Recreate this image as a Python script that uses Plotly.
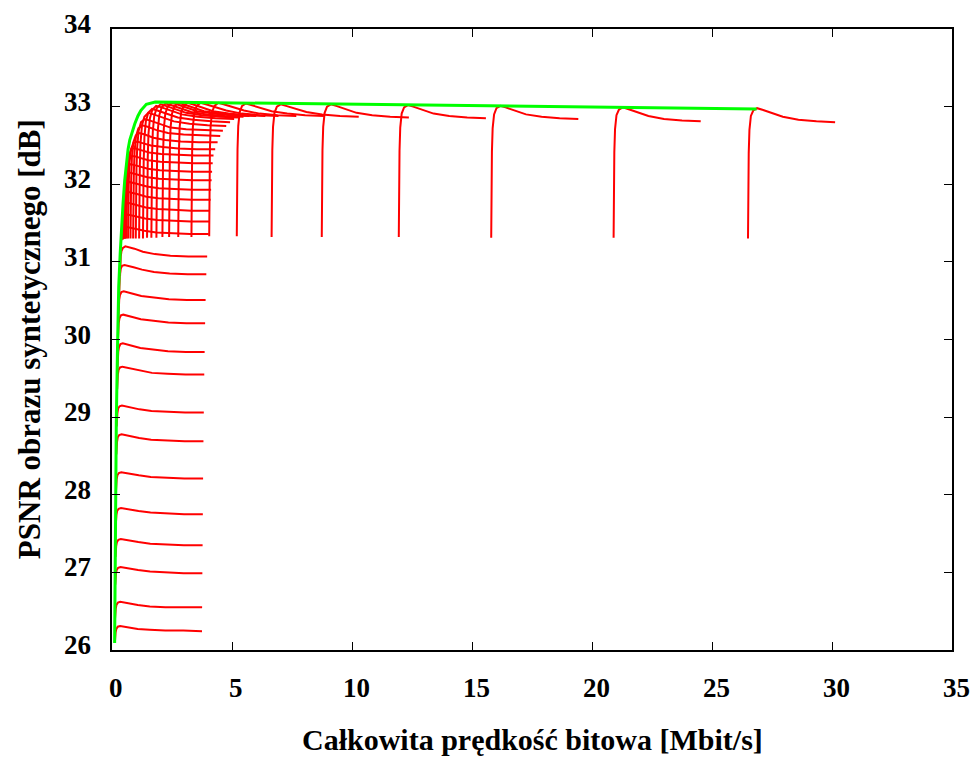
import plotly.graph_objects as go

# Depth-map bitrate added on top of the texture bitrate, one entry per depth quality step [Mbit/s]
depth_rate = [0.00, 0.01, 0.03, 0.06, 0.12, 0.22, 0.38, 0.60, 0.95, 1.45, 2.10, 2.85, 3.63]

# Texture bitrate of every operating curve [Mbit/s]
tex_rate = [
    0.12, 0.125, 0.135, 0.145, 0.155, 0.165, 0.18, 0.195, 0.215, 0.23, 0.25, 0.27, 0.30, 0.335,
    0.40, 0.43, 0.455, 0.48, 0.50, 0.52, 0.54, 0.565, 0.60,
    0.67, 0.77, 0.88, 0.99, 1.13, 1.29, 1.46, 1.64, 1.85, 2.10, 2.38, 2.76, 3.31, 4.05,
    5.20, 6.65, 8.74, 11.95, 15.80, 20.90, 26.50,
]

# PSNR of the synthesized view for each texture curve, along depth_rate [dB]
psnr = [
    [26.10, 26.17, 26.23, 26.27, 26.30, 26.31, 26.30, 26.29, 26.27, 26.26, 26.25, 26.25, 26.24],
    [26.40, 26.47, 26.53, 26.58, 26.61, 26.62, 26.61, 26.60, 26.58, 26.56, 26.55, 26.55, 26.55],
    [26.84, 26.91, 26.98, 27.03, 27.06, 27.07, 27.06, 27.05, 27.03, 27.01, 27.00, 26.99, 26.99],
    [27.20, 27.27, 27.34, 27.39, 27.42, 27.43, 27.42, 27.41, 27.39, 27.37, 27.36, 27.35, 27.35],
    [27.60, 27.67, 27.74, 27.79, 27.82, 27.83, 27.82, 27.81, 27.79, 27.77, 27.76, 27.75, 27.75],
    [28.05, 28.13, 28.20, 28.25, 28.28, 28.29, 28.28, 28.27, 28.25, 28.23, 28.22, 28.21, 28.21],
    [28.52, 28.60, 28.68, 28.74, 28.77, 28.78, 28.77, 28.75, 28.73, 28.71, 28.70, 28.69, 28.69],
    [28.88, 28.97, 29.05, 29.11, 29.14, 29.15, 29.14, 29.12, 29.10, 29.08, 29.07, 29.06, 29.06],
    [29.36, 29.46, 29.55, 29.61, 29.64, 29.65, 29.64, 29.62, 29.60, 29.57, 29.56, 29.55, 29.55],
    [29.64, 29.75, 29.84, 29.90, 29.94, 29.95, 29.94, 29.92, 29.89, 29.87, 29.85, 29.84, 29.84],
    [30.00, 30.11, 30.21, 30.27, 30.31, 30.32, 30.31, 30.29, 30.26, 30.24, 30.22, 30.21, 30.21],
    [30.29, 30.41, 30.51, 30.57, 30.61, 30.62, 30.61, 30.59, 30.56, 30.54, 30.52, 30.51, 30.51],
    [30.60, 30.73, 30.84, 30.91, 30.95, 30.96, 30.95, 30.93, 30.90, 30.87, 30.85, 30.84, 30.84],
    [30.82, 30.96, 31.07, 31.14, 31.18, 31.20, 31.19, 31.17, 31.13, 31.10, 31.08, 31.07, 31.07],
    [31.28, 31.33, 31.38, 31.42, 31.44, 31.45, 31.44, 31.42, 31.40, 31.38, 31.37, 31.36, 31.36],
    [31.29, 31.40, 31.50, 31.57, 31.60, 31.61, 31.60, 31.58, 31.56, 31.54, 31.53, 31.52, 31.52],
    [31.29, 31.45, 31.60, 31.70, 31.74, 31.76, 31.75, 31.73, 31.70, 31.68, 31.67, 31.66, 31.66],
    [31.30, 31.50, 31.68, 31.81, 31.88, 31.90, 31.89, 31.87, 31.84, 31.82, 31.81, 31.80, 31.80],
    [31.30, 31.55, 31.76, 31.91, 32.00, 32.03, 32.02, 32.00, 31.97, 31.95, 31.94, 31.93, 31.93],
    [31.30, 31.58, 31.82, 32.00, 32.11, 32.15, 32.14, 32.12, 32.09, 32.07, 32.06, 32.05, 32.05],
    [31.30, 31.61, 31.88, 32.08, 32.21, 32.26, 32.25, 32.23, 32.20, 32.18, 32.17, 32.16, 32.16],
    [31.30, 31.64, 31.93, 32.15, 32.30, 32.36, 32.36, 32.34, 32.31, 32.29, 32.28, 32.27, 32.27],
    [31.30, 31.67, 31.98, 32.22, 32.39, 32.46, 32.46, 32.44, 32.41, 32.39, 32.38, 32.37, 32.37],
    [31.30, 31.70, 32.03, 32.28, 32.45, 32.53, 32.55, 32.53, 32.50, 32.48, 32.46, 32.45, 32.45],
    [31.30, 31.74, 32.09, 32.35, 32.54, 32.63, 32.66, 32.64, 32.60, 32.57, 32.55, 32.54, 32.54],
    [31.30, 31.78, 32.15, 32.42, 32.62, 32.72, 32.76, 32.74, 32.70, 32.66, 32.64, 32.63, 32.62],
    [31.30, 31.81, 32.20, 32.48, 32.69, 32.80, 32.84, 32.82, 32.78, 32.73, 32.71, 32.70, 32.69],
    [31.30, 31.84, 32.25, 32.54, 32.76, 32.87, 32.92, 32.90, 32.86, 32.81, 32.78, 32.76, 32.75],
    [31.30, 31.87, 32.30, 32.60, 32.81, 32.92, 32.97, 32.95, 32.91, 32.86, 32.83, 32.81, 32.80],
    [31.31, 31.90, 32.35, 32.65, 32.85, 32.96, 33.01, 32.99, 32.95, 32.90, 32.87, 32.85, 32.84],
    [31.31, 31.92, 32.38, 32.68, 32.88, 32.98, 33.03, 33.01, 32.97, 32.92, 32.89, 32.87, 32.86],
    [31.31, 31.94, 32.40, 32.70, 32.89, 32.99, 33.04, 33.02, 32.98, 32.93, 32.90, 32.88, 32.87],
    [31.32, 31.95, 32.42, 32.72, 32.91, 33.00, 33.05, 33.03, 32.99, 32.94, 32.91, 32.89, 32.88],
    [31.32, 31.96, 32.43, 32.73, 32.91, 33.00, 33.05, 33.03, 32.99, 32.94, 32.91, 32.89, 32.88],
    [31.32, 31.97, 32.44, 32.74, 32.92, 33.01, 33.05, 33.03, 32.99, 32.94, 32.91, 32.89, 32.88],
    [31.32, 31.98, 32.44, 32.74, 32.92, 33.01, 33.05, 33.03, 33.00, 32.95, 32.91, 32.89, 32.88],
    [31.33, 31.98, 32.45, 32.75, 32.93, 33.01, 33.05, 33.03, 33.00, 32.95, 32.91, 32.89, 32.88],
    [31.33, 31.99, 32.45, 32.75, 32.93, 33.01, 33.04, 33.02, 32.99, 32.94, 32.91, 32.89, 32.88],
    [31.32, 31.99, 32.44, 32.74, 32.92, 33.00, 33.03, 33.01, 32.98, 32.93, 32.90, 32.88, 32.87],
    [31.32, 31.98, 32.44, 32.74, 32.92, 33.00, 33.03, 33.01, 32.97, 32.92, 32.89, 32.87, 32.86],
    [31.32, 31.98, 32.43, 32.73, 32.91, 32.99, 33.02, 33.00, 32.96, 32.91, 32.88, 32.86, 32.85],
    [31.31, 31.97, 32.42, 32.72, 32.90, 32.98, 33.01, 32.99, 32.95, 32.90, 32.87, 32.85, 32.84],
    [31.31, 31.96, 32.41, 32.71, 32.89, 32.96, 32.99, 32.97, 32.93, 32.88, 32.84, 32.82, 32.81],
    [31.30, 31.95, 32.40, 32.70, 32.88, 32.95, 32.98, 32.96, 32.92, 32.87, 32.83, 32.81, 32.80],
]

# Upper envelope of the best operating points
env_rate = [0.11, 0.14, 0.18, 0.23, 0.28, 0.34, 0.39, 0.46, 0.53, 0.60, 0.67, 0.74,
            0.84, 0.95, 1.08, 1.20, 1.43, 1.80, 26.86]
env_psnr = [26.09, 27.60, 28.96, 29.90, 30.68, 31.10, 31.41, 31.75, 32.05, 32.30, 32.45, 32.57,
            32.68, 32.78, 32.88, 32.95, 33.03, 33.06, 32.97]

x_ticks = [0, 5, 10, 15, 20, 25, 30, 35]
y_ticks = [26, 27, 28, 29, 30, 31, 32, 33, 34]

FONT = "Liberation Serif, Times New Roman, serif"
TICK_FONT = dict(family=FONT, size=27, color="black", weight="bold")
XTITLE_FONT = dict(family=FONT, size=30, color="black", weight="bold")
YTITLE_FONT = dict(family=FONT, size=31, color="black", weight="bold")

# Every texture curve joined into one polyline, separated by gaps
curve_x, curve_y = [], []
for r_tex, row in zip(tex_rate, psnr):
    curve_x += [r_tex + d for d in depth_rate] + [None]
    curve_y += list(row) + [None]

fig = go.Figure()
fig.add_trace(go.Scatter(
    x=curve_x, y=curve_y, mode="lines",
    line=dict(color="#ff0000", width=2),
    connectgaps=False, hoverinfo="skip",
))
fig.add_trace(go.Scatter(
    x=env_rate, y=env_psnr, mode="lines",
    line=dict(color="#00ff00", width=3),
    hoverinfo="skip",
))

axis_common = dict(
    showgrid=False, zeroline=False, automargin=False,
    showline=True, linecolor="black", linewidth=1.5, mirror="ticks",
    ticks="inside", ticklen=8, tickwidth=1.2, tickcolor="black",
    showticklabels=False,
)

fig.update_xaxes(range=[0, 35], tickvals=x_ticks, **axis_common)
fig.update_yaxes(range=[26, 34], tickvals=y_ticks, **axis_common)

# Tick labels placed as text so their offset from the ticks can be set exactly
annotations = []
for v in x_ticks:
    annotations.append(dict(
        text=str(v), x=v, xref="x", y=0, yref="paper",
        xanchor="center", yanchor="middle", xshift=4, yshift=-38,
        showarrow=False, font=TICK_FONT,
    ))
for v in y_ticks:
    annotations.append(dict(
        text=str(v), x=0, xref="paper", y=v, yref="y",
        xanchor="right", yanchor="middle", xshift=-19, yshift=5,
        showarrow=False, font=TICK_FONT,
    ))

annotations += [
    dict(text="Całkowita prędkość bitowa [Mbit/s]", xref="paper", yref="paper",
         x=0.5, y=0, xanchor="center", yanchor="middle", yshift=-89,
         showarrow=False, font=XTITLE_FONT),
    dict(text="PSNR obrazu syntetycznego [dB]", xref="paper", yref="paper",
         x=-0.098, y=0.5, xanchor="center", yanchor="middle", showarrow=False,
         textangle=-90, font=YTITLE_FONT),
]

fig.update_layout(
    width=971, height=757,
    margin=dict(l=112, r=19, t=29, b=107),
    paper_bgcolor="white", plot_bgcolor="white",
    showlegend=False,
    annotations=annotations,
)

fig.write_html("out.html")
